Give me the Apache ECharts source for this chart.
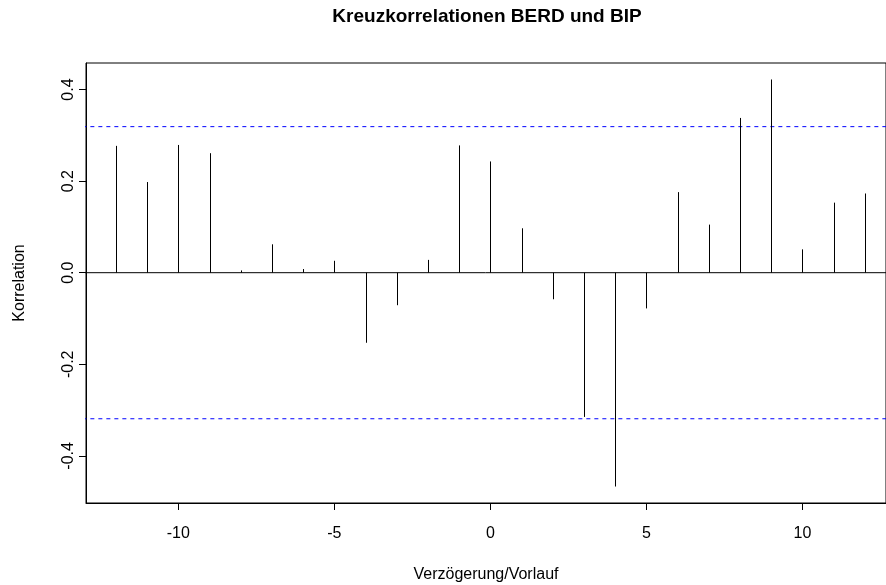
<!DOCTYPE html>
<html>
<head>
<meta charset="utf-8">
<script src="https://cdn.jsdelivr.net/npm/echarts@6/dist/echarts.min.js"></script>
<style>
  html, body { margin: 0; padding: 0; background: #fff; }
  #chart { width: 886px; height: 585px; }
</style>
</head>
<body>
<div id="chart"></div>
<script>
// Verzögerungen (lags) und Kreuzkorrelationen
const lags = [-12, -11, -10, -9, -8, -7, -6, -5, -4, -3, -2, -1, 0, 1, 2, 3, 4, 5, 6, 7, 8, 9, 10, 11, 12];
const korrelation = [0.277, 0.198, 0.279, 0.261, 0.005, 0.062, 0.008, 0.026, -0.153, -0.071, 0.028, 0.278,
  0.243, 0.097, -0.058, -0.315, -0.467, -0.078, 0.176, 0.105, 0.338, 0.422, 0.051, 0.153, 0.173];
// Konfidenzgrenze (gestrichelt, blau)
const grenze = 0.319;
const xTicks = [-10, -5, 0, 5, 10];
const yTicks = [-0.4, -0.2, 0, 0.2, 0.4];

const font = "'Liberation Sans', Arial, sans-serif";
const chart = echarts.init(document.getElementById("chart"), null, { renderer: "canvas" });

// horizontale Linie über die ganze Breite
function hline(y, color, type) {
  return {
    type: "line",
    data: [[-20, y], [20, y]],
    symbol: "none",
    silent: true,
    lineStyle: { color: color, width: 1, type: type },
    clip: true,
    z: 1,
  };
}

const option = {
  animation: false,
  backgroundColor: "#fff",
  graphic: [
    {
      type: "text",
      x: 487,
      y: 17,
      style: {
        text: "Kreuzkorrelationen BERD und BIP",
        font: "bold 19px " + font,
        fill: "#000",
        align: "center",
        verticalAlign: "middle",
      },
    },
  ],
  grid: {
    left: 86,
    right: 0,
    top: 63,
    bottom: 82,
    outerBoundsMode: "none",
    containLabel: false,
    show: true,
    borderColor: "#000",
    borderWidth: 1,
  },
  xAxis: {
    type: "value",
    min: -12.96,
    max: 12.68,
    name: "Verzögerung/Vorlauf",
    nameLocation: "middle",
    nameGap: 64,
    nameTextStyle: { fontFamily: font, fontSize: 16, color: "#000" },
    axisLine: { show: true, onZero: false, lineStyle: { color: "#000" } },
    axisTick: { show: true, length: 7, customValues: xTicks, lineStyle: { color: "#000" } },
    axisLabel: { customValues: xTicks, margin: 23, fontFamily: font, fontSize: 16, color: "#000" },
    splitLine: { show: false },
  },
  yAxis: {
    type: "value",
    min: -0.503,
    max: 0.458,
    name: "Korrelation",
    nameLocation: "middle",
    nameGap: 58,
    nameTextStyle: { fontFamily: font, fontSize: 16, color: "#000" },
    axisLine: { show: true, onZero: false, lineStyle: { color: "#000" } },
    axisTick: { show: true, length: 7, customValues: yTicks, lineStyle: { color: "#000" } },
    axisLabel: {
      customValues: yTicks,
      rotate: 90,
      margin: 9,
      fontFamily: font,
      fontSize: 16,
      color: "#000",
      formatter: (v) => v.toFixed(1),
    },
    splitLine: { show: false },
  },
  series: [
    hline(0, "#000", "solid"),
    hline(grenze, "#0000ff", [4, 4]),
    hline(-grenze, "#0000ff", [4, 4]),
    {
      type: "custom",
      z: 2,
      data: lags.map((l, i) => [l, korrelation[i]]),
      renderItem: (params, api) => {
        const p0 = api.coord([api.value(0), 0]);
        const p1 = api.coord([api.value(0), api.value(1)]);
        const x = Math.round(p0[0]) + 0.5;
        return {
          type: "line",
          shape: { x1: x, y1: p0[1], x2: x, y2: p1[1] },
          style: { stroke: "#000", lineWidth: 1 },
        };
      },
    },
  ],
};

chart.setOption(option);
</script>
</body>
</html>
